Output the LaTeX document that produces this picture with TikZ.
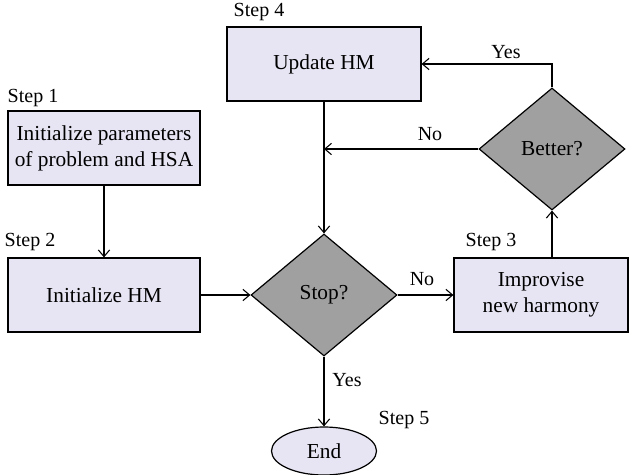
\documentclass[tikz,border=0pt]{standalone}
\usepackage{fontspec}
\setmainfont{Liberation Serif}
\newfontfamily\figserif{Liberation Serif}
\usetikzlibrary{shapes.geometric,arrows.meta}
\definecolor{boxfill}{RGB}{231,229,243}
\definecolor{decfill}{RGB}{160,160,160}
\begin{document}
\begin{tikzpicture}[x=0.75pt,y=-0.75pt,
  txt/.style={font=\figserif\fontsize{16}{19.5}\selectfont},
  lbl/.style={font=\figserif\fontsize{15}{17}\selectfont, inner sep=0},
  box/.style={txt, draw, line width=0.9pt, fill=boxfill, inner sep=0, align=center,
              minimum width=#1*0.75pt, minimum height=74*0.75pt},
  decision/.style={txt, draw, line width=0.9pt, fill=decfill, diamond, inner sep=0,
              minimum width=146*0.75pt, minimum height=122*0.75pt},
  terminal/.style={txt, draw, line width=0.9pt, fill=boxfill, ellipse, inner sep=0,
              minimum width=105*0.75pt, minimum height=48*0.75pt},
  arr/.style={line width=0.9pt, -{Straight Barb[length=5pt,width=8.5pt,line width=0.8pt]}},
  line/.style={line width=0.9pt}]
\useasboundingbox (0,0) rectangle (629,475);

\node[box=192] (s1) at (104,148) {Initialize parameters\\of problem and HSA};
\node[box=192] (s2) at (104,295) {Initialize HM};
\node[decision] (stop) at (324,295) {Stop?};
\node[box=174] (s3) at (541,295) {Improvise\\new harmony};
\node[decision] (better) at (552,149) {Better?};
\node[box=194] (s4) at (324,64) {Update HM};
\node[terminal] (end) at (324,451) {End};

\node[lbl] (l1) at (33,98) {Step 1};
\node[lbl] (l2) at (30,242) {Step 2};
\node[lbl] (l3) at (491,242) {Step 3};
\node[lbl] (l4) at (259,12) {Step 4};
\node[lbl] (l5) at (404,420) {Step 5};

\draw[arr] (s1.south) -- (s2.north);
\draw[arr] (s2.east) -- (stop.west);
\draw[arr] (stop.east) -- (s3.west);
\draw[arr] (better.south |- s3.north) -- (better.south);
\draw[arr] (better.north) |- (s4.east);
\coordinate (join) at (better.west -| s4.south);
\draw[arr] (better.west) -- (join);
\draw[arr] (s4.south) -- (stop.north);
\draw[arr] (stop.south) -- (end.north);

\node[lbl] (yes1) at (506,52) {Yes};
\node[lbl] (no1) at (430,134) {No};
\node[lbl] (no2) at (422,279) {No};
\node[lbl] (yes2) at (347,380) {Yes};
\end{tikzpicture}
\end{document}
